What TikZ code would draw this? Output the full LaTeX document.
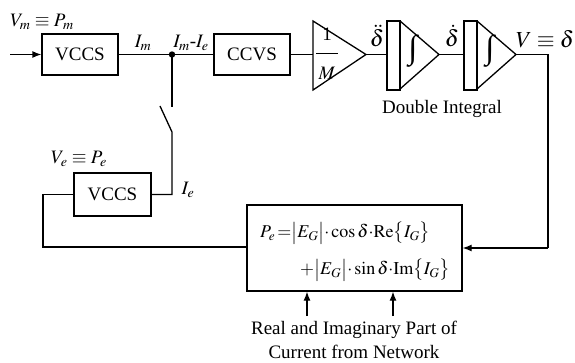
\documentclass[tikz,border=0pt]{standalone}
\usepackage{mathptmx}
\usepackage{fontspec}
\setmainfont{Liberation Serif}
\usetikzlibrary{arrows.meta}
\tikzset{
  ln/.style={line width=1.3pt},
  blk/.style={draw,line width=1.3pt,minimum width=76pt,minimum height=41pt,inner sep=0pt,font=\fontsize{19}{22}\selectfont},
  lbl/.style={inner sep=0pt,font=\fontsize{19}{22}\selectfont},
  big/.style={inner sep=0pt,font=\fontsize{23}{26}\selectfont},
  intg/.style={inner sep=0pt,font=\fontsize{33}{33}\selectfont},
  fml/.style={inner sep=0pt,font=\fontsize{18}{21}\selectfont},
  arr/.style={line width=1.3pt,-{Latex[length=9pt,width=7pt]}},
}
\begin{document}
\begin{tikzpicture}[x=1pt,y=-1pt]
\useasboundingbox (0,0) rectangle (575,363);
% blocks
\node[blk] (vccs1) at (80,54.5) {VCCS};
\node[blk] (ccvs) at (252,54.5) {CCVS};
\node[blk,minimum width=77pt,minimum height=43pt] (vccs2) at (112.5,194.5) {VCCS};
\node[blk,minimum width=215pt,minimum height=86pt] (pe) at (354.5,248) {};
% input
\coordinate (in) at (10,54.5);
\draw[arr] (in) -- (vccs1.west);
% junction
\coordinate (j) at (172,54.5);
\draw[ln] (vccs1.east) -- (j) -- (ccvs.west);
\fill (j) circle (3.2pt);
% switch
\coordinate (swtop) at (172,107);
\coordinate (swblade) at (160,106);
\coordinate (swbot) at (172,132);
\coordinate (swcorner) at (172,194.5);
\draw[ln] (j) -- (swtop);
\draw[ln] (swblade) -- (swbot) -- (swcorner) -- (vccs2.east);
% feedback to vccs2
\coordinate (fbA) at (43,194.5);
\coordinate (fbB) at (43,247);
\draw[ln] (vccs2.west) -- (fbA) -- (fbB) -- (fbB -| pe.west);
% gain 1/M
\coordinate (g1) at (313,21);
\coordinate (g2) at (313,90);
\coordinate (gout) at (366,54.5);
\draw[ln,line join=miter] (g1) -- (gout) -- (g2) -- cycle;
\draw[ln] (ccvs.east) -- (gout -| g1);
\node[lbl] (one) at (327,34) {1};
\node[lbl] (M) at (327,73) {$M$};
\draw[line width=0.9pt] (316,53) -- (338,53);
% integrator 1
\coordinate (i1in) at (387,54.5);
\draw[ln] (387,21) rectangle (400,90);
\draw[ln,line join=miter] (400,21) -- (439,54.5) -- (400,89);
\coordinate (i1out) at (439,54.5);
\node[intg] (int1) at (413,51) {∫};
\draw[ln] (gout) -- (i1in);
% integrator 2
\coordinate (i2in) at (464,54.5);
\draw[ln] (464,21) rectangle (477,90);
\draw[ln,line join=miter] (477,21) -- (516,54.5) -- (477,89);
\coordinate (i2out) at (516,54.5);
\node[intg] (int2) at (490,51) {∫};
\draw[ln] (i1out) -- (i2in);
% output feedback
\coordinate (oA) at (548,54.5);
\coordinate (oB) at (548,248);
\draw[ln] (i2out) -- (oA) -- (oB);
\draw[arr] (oB) -- (pe.east);
% labels
\node[lbl] (vm) at (42,22) {$V_m\equiv P_m$};
\node[lbl] (im) at (143,43) {$I_m$};
\node[lbl] (imie) at (191,43) {$I_m$-$I_e$};
\node[lbl] (ve) at (79,159) {$V_e\equiv P_e$};
\node[lbl] (ie) at (188,190) {$I_e$};
\node[big] (dd) at (377,36) {$\ddot{\delta}$};
\node[big] (d) at (452,36) {$\dot{\delta}$};
\node[big] (vd) at (545,39) {$V\equiv\delta$};
\node[lbl] (dbl) at (442,109) {Double Integral};
% formula
\node[fml,anchor=west] (f1) at (260,233) {$P_e\,{=}\bigl|E_G\bigr|{\cdot}\cos\delta{\cdot}\mathrm{Re}\bigl\{I_G\bigr\}$};
\node[fml,anchor=west] (f2) at (300,270) {${+}\bigl|E_G\bigr|{\cdot}\sin\delta{\cdot}\mathrm{Im}\bigl\{I_G\bigr\}$};
% network inputs
\coordinate (n1) at (307,316);
\coordinate (n2) at (393,316);
\draw[arr] (n1) -- (n1 |- pe.south);
\draw[arr] (n2) -- (n2 |- pe.south);
\node[lbl] (net1) at (354,330) {Real and Imaginary Part of};
\node[lbl] (net2) at (354,352) {Current from Network};
\end{tikzpicture}
\end{document}
